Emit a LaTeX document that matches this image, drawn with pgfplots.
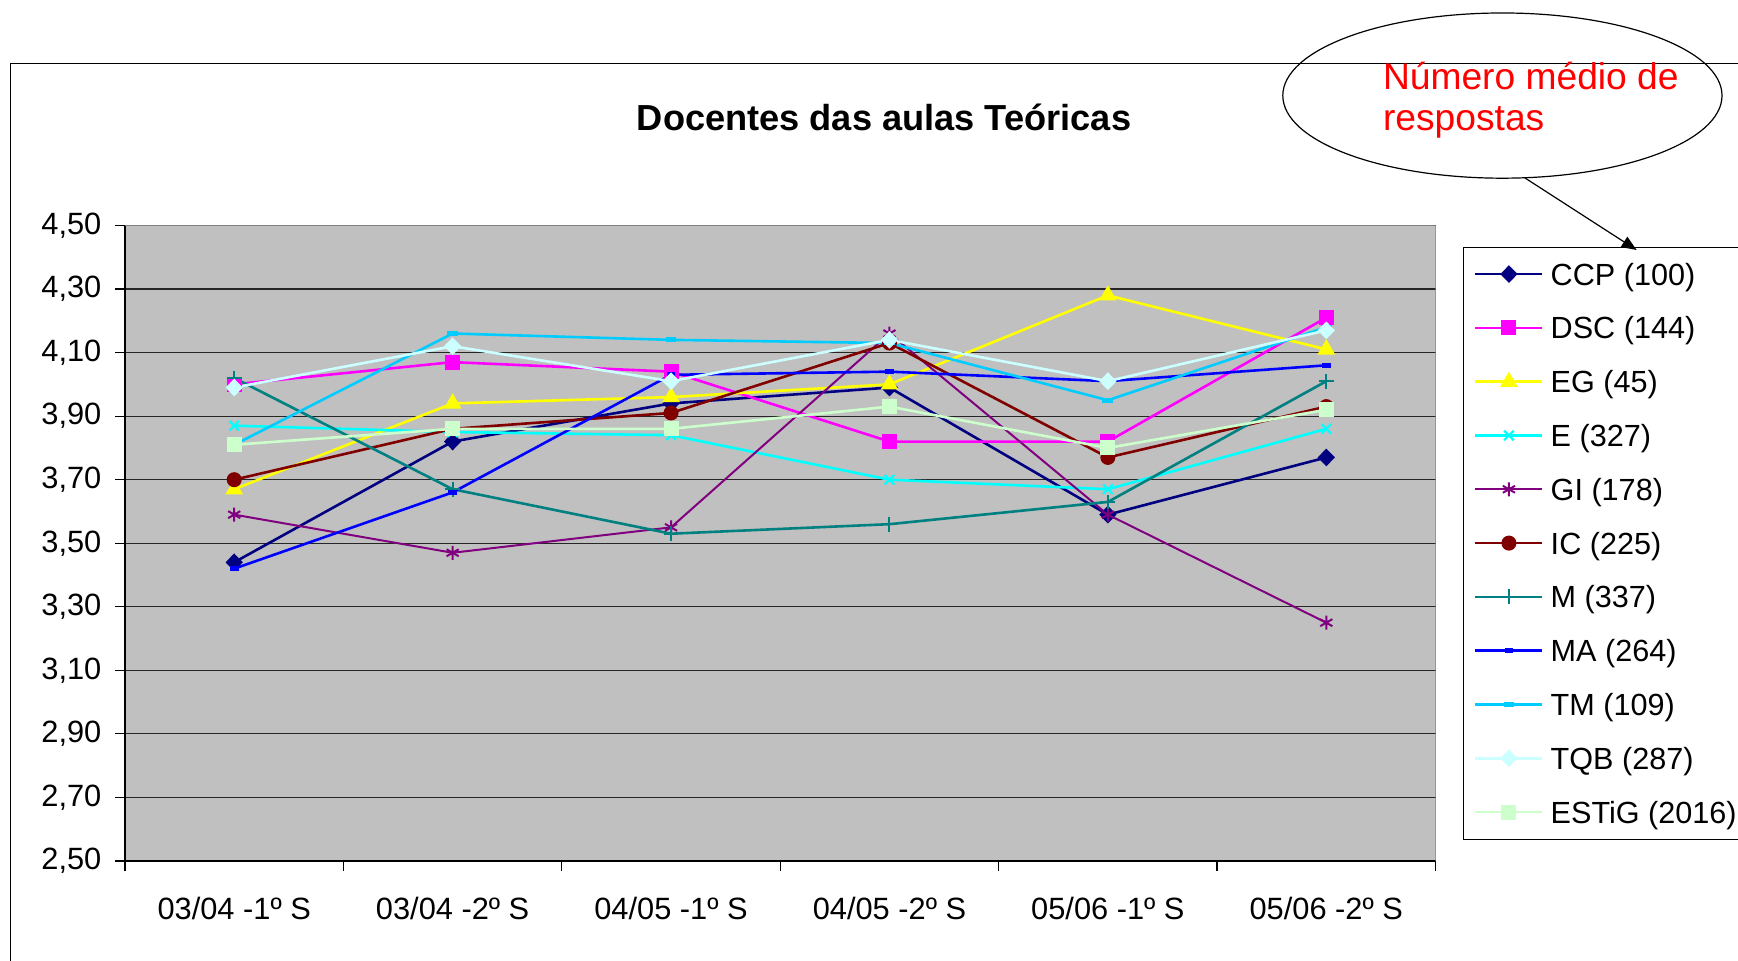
\documentclass[border=0pt]{standalone}
\usepackage{pgfplots}
\pgfplotsset{compat=1.18}
\usepackage{fontspec}
\setmainfont{Liberation Sans}
\usetikzlibrary{arrows.meta}
\definecolor{cCCP}{HTML}{000080}
\definecolor{cDSC}{HTML}{FF00FF}
\definecolor{cEG}{HTML}{FFFF00}
\definecolor{cE}{HTML}{00FFFF}
\definecolor{cGI}{HTML}{800080}
\definecolor{cIC}{HTML}{800000}
\definecolor{cM}{HTML}{008080}
\definecolor{cMA}{HTML}{0000FF}
\definecolor{cTM}{HTML}{00CCFF}
\definecolor{cTQB}{HTML}{CCFFFF}
\definecolor{cEST}{HTML}{CCFFCC}
\definecolor{bgGray}{HTML}{C0C0C0}
\definecolor{bdGray}{HTML}{808080}
\begin{document}
\begin{tikzpicture}[x=1pt,y=1pt]
\useasboundingbox (0,0) rectangle (869,480.5);
\fill[white] (0,0) rectangle (869,480.5);
\draw[black, line width=0.5pt] (5,-20) rectangle (900,448.8);
\node[anchor=base, font=\bfseries\fontsize{18.1}{21}\selectfont] at (442,415.2) {Docentes das aulas Teóricas};
\begin{axis}[
  at={(62.5pt,50pt)}, anchor=south west, scale only axis,
  width=655.25pt, height=317.75pt,
  xmin=-0.5, xmax=5.5, ymin=2.5, ymax=4.5,
  xtick={-0.5,0.5,1.5,2.5,3.5,4.5,5.5}, xticklabels={,,,,,,},
  extra x ticks={0,1,2,3,4,5},
  extra x tick labels={03/04 -1º S,03/04 -2º S,04/05 -1º S,04/05 -2º S,05/06 -1º S,05/06 -2º S},
  extra x tick style={major tick length=0pt, tick label style={yshift=-14.7pt}},
  ytick={2.5,2.7,2.9,3.1,3.3,3.5,3.7,3.9,4.1,4.3,4.5},
  tick align=outside, major tick length=5pt,
  tick style={black, line width=0.6pt},
  axis lines*=left, axis line style={black, line width=0.8pt, -},
  axis background/.style={fill=bgGray},
  ymajorgrids, grid style={black!85, line width=0.6pt},
  ticklabel style={font=\fontsize{15.4}{18}\selectfont},
  yticklabel style={xshift=-3.3pt, /pgf/number format/.cd, use comma, fixed, fixed zerofill, precision=2, assume math mode=true},
  legend style={at={(1.0207,0.9668)}, anchor=north west, draw=black, line width=0.5pt, fill=white,
    inner xsep=5.5pt, inner ysep=8pt, row sep=15.9pt,
    font=\fontsize{15.3}{18}\selectfont,
    nodes={inner sep=0pt, text height=11pt, text depth=0pt},
    /tikz/every odd column/.append style={column sep=3.5pt}},
  legend cell align=left,
  legend image code/.code={\draw[mark repeat=2,mark phase=2,#1] plot coordinates {(0pt,0pt)(16.75pt,0pt)(33.5pt,0pt)};},
  every axis plot/.append style={line width=1.3pt},
]
\addplot[color=cCCP, mark=diamond*, mark size=3.5pt, mark options={solid, xscale=1.3}] coordinates {(0,3.44)(1,3.82)(2,3.94)(3,3.99)(4,3.59)(5,3.77)};
\addlegendentry{CCP (100)}
\addplot[color=cDSC, mark=square*, mark size=3.1pt, mark options={solid}] coordinates {(0,4.00)(1,4.07)(2,4.04)(3,3.82)(4,3.82)(5,4.21)};
\addlegendentry{DSC (144)}
\addplot[color=cEG, mark=triangle*, mark size=3.8pt, mark options={solid}] coordinates {(0,3.67)(1,3.94)(2,3.96)(3,4.00)(4,4.28)(5,4.11)};
\addlegendentry{EG (45)}
\addplot[color=cE, mark=x, mark size=3.4pt, mark options={solid, line width=1.1pt}] coordinates {(0,3.87)(1,3.85)(2,3.84)(3,3.70)(4,3.67)(5,3.86)};
\addlegendentry{E (327)}
\addplot[color=cGI, line width=1pt, mark=asterisk, mark size=3.5pt, mark options={solid, line width=1pt}] coordinates {(0,3.59)(1,3.47)(2,3.55)(3,4.16)(4,3.59)(5,3.25)};
\addlegendentry{GI (178)}
\addplot[color=cIC, mark=*, mark size=3.1pt, mark options={solid}] coordinates {(0,3.70)(1,3.86)(2,3.91)(3,4.13)(4,3.77)(5,3.93)};
\addlegendentry{IC (225)}
\addplot[color=cM, mark=+, mark size=3.7pt, mark options={solid, line width=1pt}] coordinates {(0,4.02)(1,3.67)(2,3.53)(3,3.56)(4,3.63)(5,4.01)};
\addlegendentry{M (337)}
\addplot[color=cMA, mark=-, mark size=2.2pt, mark options={solid, line width=2.4pt}] coordinates {(0,3.42)(1,3.66)(2,4.03)(3,4.04)(4,4.01)(5,4.06)};
\addlegendentry{MA (264)}
\addplot[color=cTM, mark=-, mark size=2.7pt, mark options={solid, line width=2.4pt}] coordinates {(0,3.81)(1,4.16)(2,4.14)(3,4.13)(4,3.95)(5,4.18)};
\addlegendentry{TM (109)}
\addplot[color=cTQB, mark=diamond*, mark size=3.5pt, mark options={solid, xscale=1.3}] coordinates {(0,3.99)(1,4.12)(2,4.01)(3,4.14)(4,4.01)(5,4.17)};
\addlegendentry{TQB (287)}
\addplot[color=cEST, mark=square*, mark size=3.1pt, mark options={solid}] coordinates {(0,3.81)(1,3.86)(2,3.86)(3,3.93)(4,3.80)(5,3.92)};
\addlegendentry{ESTiG (2016)}
\draw[bdGray, line width=1pt] (rel axis cs:0,1) -- (rel axis cs:1,1) -- (rel axis cs:1,0);
\end{axis}
\draw[black, line width=0.6pt] (751.2,432.7) ellipse [x radius=109.8, y radius=41.3];
\node[anchor=base west, inner sep=0pt, text=red, font=\fontsize{18.6}{20.5}\selectfont] at (691.3,435.5) {Número médio de};
\node[anchor=base west, inner sep=0pt, text=red, font=\fontsize{18.6}{20.5}\selectfont] at (691.3,415) {respostas};
\draw[black, line width=0.6pt, -{Triangle[length=7.5pt, width=6pt]}] (762.5,391.5) -- (818.3,355.5);
\end{tikzpicture}
\end{document}
